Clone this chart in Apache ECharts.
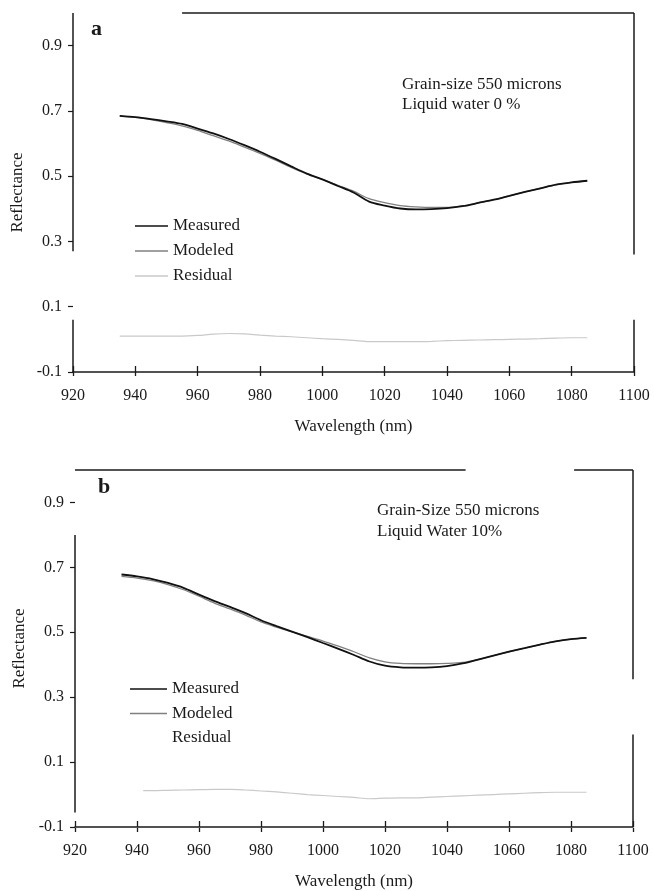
<!DOCTYPE html>
<html><head><meta charset="utf-8">
<script src="https://cdn.jsdelivr.net/npm/echarts@6/dist/echarts.min.js"></script>
<style>html,body{margin:0;padding:0;background:#fff}#c{width:654px;height:891px}</style>
</head><body><div id="c"></div>
<script>
// ---------- data ----------
const wavelengths = [935,940,945,950,955,960,965,970,975,980,985,990,995,1000,1005,1010,1015,1020,1025,1030,1035,1040,1045,1050,1055,1060,1065,1070,1075,1080,1085];
const measuredA = [0.685,0.681,0.675,0.668,0.660,0.646,0.631,0.614,0.595,0.575,0.553,0.530,0.508,0.490,0.470,0.450,0.422,0.410,0.401,0.398,0.399,0.402,0.408,0.418,0.428,0.440,0.452,0.463,0.474,0.481,0.486];
const modeledA  = [0.685,0.680,0.673,0.664,0.654,0.640,0.624,0.608,0.589,0.570,0.549,0.527,0.507,0.490,0.472,0.454,0.431,0.419,0.410,0.406,0.404,0.404,0.409,0.418,0.428,0.440,0.452,0.463,0.474,0.481,0.486];
const residualA = [0.010,0.010,0.010,0.010,0.010,0.012,0.016,0.018,0.017,0.013,0.010,0.008,0.005,0.002,0.000,-0.003,-0.007,-0.007,-0.007,-0.007,-0.006,-0.004,-0.003,-0.002,-0.001,0.000,0.001,0.002,0.004,0.005,0.005];
const measuredB = [0.678,0.672,0.664,0.652,0.637,0.616,0.596,0.578,0.559,0.537,0.519,0.502,0.485,0.467,0.449,0.430,0.410,0.397,0.392,0.391,0.392,0.396,0.404,0.416,0.428,0.440,0.451,0.462,0.472,0.479,0.483];
const modeledB  = [0.672,0.667,0.659,0.647,0.631,0.611,0.590,0.572,0.553,0.532,0.516,0.501,0.487,0.473,0.457,0.440,0.421,0.409,0.404,0.403,0.403,0.404,0.407,0.416,0.428,0.440,0.451,0.462,0.472,0.479,0.483];
const residualWavelengthsB = [942,945,950,955,960,965,970,975,980,985,990,995,1000,1005,1010,1015,1020,1025,1030,1035,1040,1045,1050,1055,1060,1065,1070,1075,1080,1085];
const residualB = [0.012,0.012,0.013,0.014,0.015,0.016,0.016,0.014,0.011,0.008,0.004,0.000,-0.003,-0.006,-0.009,-0.013,-0.011,-0.010,-0.010,-0.008,-0.006,-0.004,-0.002,0.000,0.002,0.004,0.006,0.007,0.007,0.007];
const yTickValues = [-0.1,0.1,0.3,0.5,0.7,0.9];
const seriesNames = ['Measured','Modeled','Residual'];
const annotationA = ['Grain-size 550 microns','Liquid water 0 %'];
const annotationB = ['Grain-Size 550 microns','Liquid Water 10%'];

// ---------- layout / style ----------
const FONT = '"Liberation Serif", "Times New Roman", serif';
const INK = '#1a1a1a';
const frameA = [ [[920,1.0],[920,0.27]], [[920,0.06],[920,-0.1]], [[955,1.0],[1100,1.0]], [[1100,1.0],[1100,0.26]], [[1100,0.06],[1100,-0.1]] ];
const frameB = [ [[920,1.0],[1046,1.0]], [[1081,1.0],[1100,1.0]], [[920,0.80],[920,-0.055]], [[1100,1.0],[1100,0.355]], [[1100,0.185],[1100,-0.1]] ];
const zip = (xs, ys) => xs.map((x,i)=>[x, ys[i]]);

function xMain(grid){
  return {type:'value', gridIndex:grid, min:920, max:1100, interval:20, position:'bottom',
    axisLine:{show:true, onZero:false, lineStyle:{color:INK, width:1.5}},
    axisTick:{show:true, inside:true, length:6, lineStyle:{color:INK, width:1.3}},
    axisLabel:{show:true, margin:16, color:INK, fontFamily:FONT, fontSize:16, formatter:v=>String(v)},
    splitLine:{show:false},
    name:'Wavelength (nm)', nameLocation:'middle', nameGap:46,
    nameTextStyle:{color:INK, fontFamily:FONT, fontSize:17}};
}
function xOut(grid){
  return {type:'value', gridIndex:grid, min:920, max:1100, interval:20, position:'bottom',
    axisLine:{show:false, onZero:false}, axisTick:{show:true, inside:false, length:4, lineStyle:{color:INK, width:1.3}},
    axisLabel:{show:false}, splitLine:{show:false}};
}
function yAx(grid){
  return {type:'value', gridIndex:grid, min:-0.1, max:1.0,
    axisLine:{show:false},
    axisTick:{show:true, customValues:yTickValues, length:5, lineStyle:{color:INK, width:1.2}},
    axisLabel:{show:true, customValues:yTickValues, margin:11, color:INK, fontFamily:FONT, fontSize:16,
      formatter:v=>Number(v).toFixed(1)},
    splitLine:{show:false},
    name:'Reflectance', nameLocation:'middle', nameGap:45,
    nameTextStyle:{color:INK, fontFamily:FONT, fontSize:17}};
}
function yDup(grid){
  return {type:'value', gridIndex:grid, min:-0.1, max:1.0, show:false};
}
function lineSeries(name, data, xi, yi, color, width){
  return {type:'line', name:name, data:data, xAxisIndex:xi, yAxisIndex:yi, symbol:'none',
    smooth:0.3, lineStyle:{color:color, width:width}, itemStyle:{color:color}, animation:false, z:3};
}
function frameSeries(segs, xi, yi){
  return {type:'line', data:[], xAxisIndex:xi, yAxisIndex:yi, clip:false, silent:true, animation:false,
    markLine:{silent:true, symbol:['none','none'], label:{show:false}, animation:false,
      lineStyle:{color:INK, width:1.5, type:'solid'},
      emphasis:{disabled:true},
      data: segs.map(s=>[{coord:s[0]},{coord:s[1]}])}};
}
const COL = {Measured:'#111111', Modeled:'#808080', Residual:'#c9c9c9'};
const WID = {Measured:1.8, Modeled:1.3, Residual:1.2};

const grids = [
  {left:73, right:20, top:13, height:359},
  {left:73, right:20, top:13, height:359},
  {left:75, right:21, top:470, height:358},
  {left:75, right:21, top:470, height:358}
];

const legendText = {color:INK, fontFamily:FONT, fontSize:17, lineHeight:20};
const option = {
  backgroundColor:'#fff',
  animation:false,
  grid: grids,
  xAxis:[xMain(0), xOut(1), xMain(2), xOut(3)],
  yAxis:[yAx(0), yDup(1), yAx(2), yDup(3)],
  legend:[
    {orient:'vertical', left:130, top:211, icon:'rect', itemWidth:33, itemHeight:1.6, itemGap:5, selectedMode:false,
     data:seriesNames, textStyle:legendText},
    {orient:'vertical', left:125, top:674, icon:'rect', itemWidth:37, itemHeight:1.6, itemGap:4.5, selectedMode:false,
     data:[seriesNames[0], seriesNames[1], {name:seriesNames[2], itemStyle:{opacity:0}}],
     textStyle:legendText}
  ],
  graphic:[
    {type:'text', left:91, top:18, style:{text:'a', font:'bold 22px '+FONT, fill:INK}},
    {type:'text', left:98, top:476, style:{text:'b', font:'bold 22px '+FONT, fill:INK}},
    {type:'text', left:402, top:75, style:{text:annotationA.join('\n'), font:'17px '+FONT, fill:INK, lineHeight:20}},
    {type:'text', left:377, top:500, style:{text:annotationB.join('\n'), font:'17px '+FONT, fill:INK, lineHeight:21}}
  ],
  series:[
    lineSeries('Residual', zip(wavelengths, residualA), 0, 0, COL.Residual, WID.Residual),
    lineSeries('Modeled', zip(wavelengths, modeledA), 0, 0, COL.Modeled, WID.Modeled),
    lineSeries('Measured', zip(wavelengths, measuredA), 0, 0, COL.Measured, WID.Measured),
    lineSeries('Residual', zip(residualWavelengthsB, residualB), 2, 2, COL.Residual, WID.Residual),
    lineSeries('Modeled', zip(wavelengths, modeledB), 2, 2, COL.Modeled, WID.Modeled),
    lineSeries('Measured', zip(wavelengths, measuredB), 2, 2, COL.Measured, WID.Measured),
    frameSeries(frameA, 0, 0),
    frameSeries(frameB, 2, 2)
  ]
};
const chart = echarts.init(document.getElementById('c'), null, {renderer:'canvas'});
chart.setOption(option);
</script></body></html>
